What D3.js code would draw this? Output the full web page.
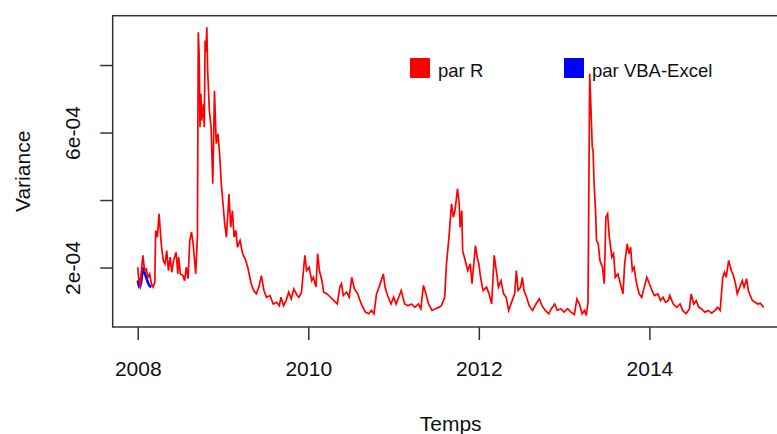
<!DOCTYPE html>
<html>
<head>
<meta charset="utf-8">
<script src="https://cdn.jsdelivr.net/npm/d3@7"></script>
<style>
  body { margin: 0; background: #fff; }
  text { font-family: "Liberation Sans", Arial, sans-serif; fill: #111; }
  .axis path, .axis line { stroke: #333; stroke-width: 1.5; }
  .axis text { font-size: 21px; }
  .labeltext { font-size: 21px; }
  .legendtext { font-size: 18.5px; }
</style>
</head>
<body>
<script>
// time (decimal years) and conditional variance estimated with R, in units of 1e-04
var temps = [
  2008.00, 2008.01, 2008.03, 2008.04, 2008.06, 2008.08, 2008.10, 2008.12, 2008.14, 2008.16,
  2008.18, 2008.20, 2008.21, 2008.23, 2008.25, 2008.27, 2008.28, 2008.30, 2008.32, 2008.34,
  2008.36, 2008.38, 2008.40, 2008.42, 2008.45, 2008.47, 2008.48, 2008.50, 2008.53, 2008.55,
  2008.57, 2008.59, 2008.61, 2008.63, 2008.65, 2008.67, 2008.68, 2008.70, 2008.71, 2008.72,
  2008.73, 2008.74, 2008.75, 2008.77, 2008.78, 2008.79, 2008.80, 2008.81, 2008.82, 2008.84,
  2008.86, 2008.88, 2008.90, 2008.92, 2008.94, 2008.96, 2008.98, 2009.00, 2009.02, 2009.04,
  2009.07, 2009.09, 2009.11, 2009.13, 2009.15, 2009.17, 2009.20, 2009.23, 2009.26, 2009.29,
  2009.33, 2009.36, 2009.39, 2009.42, 2009.45, 2009.48, 2009.51, 2009.55, 2009.59, 2009.63,
  2009.66, 2009.68, 2009.71, 2009.74, 2009.77, 2009.80, 2009.83, 2009.87, 2009.89, 2009.92,
  2009.96, 2009.98, 2010.01, 2010.04, 2010.06, 2010.09, 2010.11, 2010.13, 2010.16, 2010.18,
  2010.22, 2010.26, 2010.30, 2010.34, 2010.37, 2010.39, 2010.41, 2010.45, 2010.48, 2010.51,
  2010.54, 2010.58, 2010.60, 2010.63, 2010.67, 2010.71, 2010.74, 2010.77, 2010.80, 2010.83,
  2010.88, 2010.90, 2010.93, 2010.97, 2011.00, 2011.03, 2011.06, 2011.09, 2011.13, 2011.17,
  2011.21, 2011.25, 2011.29, 2011.32, 2011.35, 2011.38, 2011.41, 2011.45, 2011.49, 2011.53,
  2011.56, 2011.60, 2011.62, 2011.65, 2011.67, 2011.68, 2011.70, 2011.72, 2011.75, 2011.77,
  2011.78, 2011.80, 2011.81, 2011.84, 2011.87, 2011.90, 2011.92, 2011.96, 2011.98, 2012.00,
  2012.02, 2012.05, 2012.09, 2012.12, 2012.15, 2012.18, 2012.21, 2012.23, 2012.26, 2012.29,
  2012.32, 2012.35, 2012.39, 2012.42, 2012.44, 2012.46, 2012.49, 2012.51, 2012.53, 2012.56,
  2012.59, 2012.63, 2012.67, 2012.71, 2012.74, 2012.78, 2012.82, 2012.85, 2012.89, 2012.92,
  2012.96, 2013.00, 2013.04, 2013.08, 2013.12, 2013.15, 2013.18, 2013.21, 2013.24, 2013.26,
  2013.28, 2013.30, 2013.31, 2013.33, 2013.34, 2013.35, 2013.37, 2013.38, 2013.40, 2013.42,
  2013.45, 2013.47, 2013.49, 2013.51, 2013.53, 2013.56, 2013.58, 2013.60, 2013.63, 2013.66,
  2013.69, 2013.71, 2013.74, 2013.76, 2013.78, 2013.80, 2013.82, 2013.85, 2013.88, 2013.91,
  2013.94, 2013.97, 2014.00, 2014.03, 2014.06, 2014.10, 2014.13, 2014.16, 2014.19, 2014.22,
  2014.24, 2014.28, 2014.32, 2014.36, 2014.39, 2014.43, 2014.47, 2014.49, 2014.52, 2014.55,
  2014.58, 2014.61, 2014.65, 2014.69, 2014.73, 2014.77, 2014.80, 2014.83, 2014.86, 2014.88,
  2014.90, 2014.93, 2014.96, 2014.98, 2015.01, 2015.03, 2015.06, 2015.09, 2015.11, 2015.14,
  2015.16, 2015.19, 2015.21, 2015.24, 2015.27, 2015.30, 2015.34
];
var varianceR = [
  2.01, 1.71, 1.42, 1.81, 2.36, 1.91, 1.96, 1.71, 1.81, 1.52,
  1.42, 1.56, 3.10, 2.90, 3.59, 2.90, 2.60, 2.21, 2.11, 2.50,
  1.91, 2.31, 1.86, 2.21, 2.45, 1.81, 2.31, 1.81, 1.76, 1.61,
  2.01, 1.67, 2.80, 3.05, 2.70, 2.11, 1.81, 2.95, 8.97, 8.33,
  6.16, 7.15, 6.36, 6.85, 6.16, 8.73, 8.38, 9.12, 7.84, 6.65,
  6.16, 4.48, 7.24, 5.67, 5.96, 5.37, 4.48, 3.89, 3.29, 2.90,
  4.18, 3.19, 3.69, 2.90, 3.10, 2.60, 2.80, 2.41, 2.26, 2.01,
  1.52, 1.32, 1.22, 1.42, 1.76, 1.32, 1.12, 1.17, 0.92, 0.97,
  0.87, 1.12, 0.87, 1.02, 1.27, 1.07, 1.37, 1.17, 1.12, 1.27,
  2.36, 1.91, 2.01, 1.61, 1.71, 1.42, 2.41, 1.91, 1.61, 1.27,
  1.22, 1.12, 1.02, 0.92, 1.42, 1.52, 1.17, 1.27, 1.12, 1.71,
  1.37, 1.22, 1.07, 0.87, 0.68, 0.63, 0.73, 0.63, 1.22, 1.42,
  1.81, 1.42, 1.17, 0.92, 1.12, 0.92, 1.12, 1.32, 0.92, 0.87,
  0.92, 0.82, 0.92, 0.78, 1.47, 1.22, 0.92, 0.73, 0.78, 0.82,
  0.87, 1.12, 2.11, 2.90, 3.59, 3.89, 3.49, 3.69, 4.33, 3.89,
  3.19, 3.69, 2.50, 2.21, 1.91, 2.11, 1.52, 2.65, 2.31, 2.11,
  1.71, 1.32, 1.42, 1.22, 0.92, 2.36, 1.81, 1.42, 1.61, 1.22,
  1.12, 0.73, 1.02, 1.22, 1.91, 1.32, 1.42, 1.71, 1.32, 1.12,
  0.87, 0.73, 0.92, 1.07, 0.87, 0.73, 0.63, 0.78, 0.92, 0.73,
  0.78, 0.68, 0.78, 0.68, 0.61, 1.07, 0.92, 0.63, 0.73, 0.58,
  0.97, 7.74, 7.05, 5.56, 5.47, 4.58, 3.59, 2.80, 2.70, 2.21,
  2.01, 1.52, 3.49, 3.59, 2.90, 2.31, 2.41, 1.71, 1.81, 1.52,
  1.22, 2.11, 2.70, 2.41, 2.60, 1.91, 2.01, 1.52, 1.22, 1.12,
  1.42, 1.71, 1.52, 1.32, 1.17, 1.22, 1.02, 1.12, 0.97, 1.02,
  1.17, 0.92, 0.82, 0.92, 0.73, 0.63, 0.78, 1.22, 0.92, 1.02,
  0.82, 0.78, 0.68, 0.73, 0.65, 0.73, 0.82, 0.73, 1.71, 1.86,
  1.71, 2.21, 1.91, 1.81, 1.52, 1.22, 1.42, 1.61, 1.42, 1.67,
  1.32, 1.12, 1.02, 0.97, 0.92, 0.94, 0.82
];
// the VBA-Excel estimate, visible only at the start of the sample
var tempsVBA = [2008.00, 2008.01, 2008.02, 2008.03, 2008.04, 2008.06, 2008.08, 2008.12, 2008.14, 2008.16];
var varianceVBA = [1.62, 1.50, 1.58, 1.47, 1.55, 2.00, 1.85, 1.55, 1.45, 1.42];
var unit = 1e-4;

var xTicks = [2008, 2010, 2012, 2014];
var yTicks = [2e-4, 4e-4, 6e-4, 8e-4];
var yTickLabels = ["2e-04", "", "6e-04", ""];
var legendNames = ["par R", "par VBA-Excel"];
var legendColors = ["#ff0000", "#0000ff"];

// set the dimensions and margins of the graph
var margin = {top: 15.7, left: 112.7},
    width = 676,
    height = 311.3;

var svg = d3.select("body").append("svg")
    .attr("width", 777)
    .attr("height", 434);

var g = svg.append("g")
    .attr("transform", "translate(" + margin.left + "," + margin.top + ")");

// R style ranges: data extent padded by 4% on each side
function padded(ext) {
  var r = ext[1] - ext[0];
  return [ext[0] - 0.04 * r, ext[1] + 0.04 * r];
}
var x = d3.scaleLinear().domain(padded(d3.extent(temps))).range([0, width]);
var y = d3.scaleLinear()
    .domain(padded(d3.extent(varianceR)).map(function(v) { return v * unit; }))
    .range([height, 0]);

var line = d3.line()
    .x(function(d) { return x(d[0]); })
    .y(function(d) { return y(d[1] * unit); });

// blue series (mostly hidden under the red one)
g.append("path")
    .datum(d3.zip(tempsVBA, varianceVBA))
    .attr("fill", "none")
    .attr("stroke", "#0000ff")
    .attr("stroke-width", 2.5)
    .attr("d", line);

// red series
g.append("path")
    .datum(d3.zip(temps, varianceR))
    .attr("fill", "none")
    .attr("stroke", "#ff0000")
    .attr("stroke-width", 1.7)
    .attr("d", line);

// box
g.append("rect")
    .attr("x", 0).attr("y", 0)
    .attr("width", width).attr("height", height)
    .attr("fill", "none")
    .attr("stroke", "#333")
    .attr("stroke-width", 1.5);

// x axis
var xAxis = g.append("g")
    .attr("class", "axis")
    .attr("transform", "translate(0," + height + ")")
    .call(d3.axisBottom(x).tickValues(xTicks).tickSize(13).tickFormat(d3.format("d")));
xAxis.select(".domain").remove();
xAxis.selectAll("text").attr("y", 49).attr("dy", null);

// y axis
var yAxis = g.append("g")
    .attr("class", "axis")
    .call(d3.axisLeft(y).tickValues(yTicks).tickSize(12.5)
      .tickFormat(function(d, i) { return yTickLabels[i]; }));
yAxis.select(".domain").remove();
yAxis.selectAll("text")
    .attr("transform", "rotate(-90)")
    .attr("x", 0)
    .attr("y", -32.7)
    .attr("dy", null)
    .style("text-anchor", "middle");

// axis titles
svg.append("text")
    .attr("class", "labeltext")
    .attr("x", margin.left + width / 2)
    .attr("y", 431)
    .style("text-anchor", "middle")
    .text("Temps");
svg.append("text")
    .attr("class", "labeltext")
    .attr("transform", "translate(30," + (margin.top + height / 2) + ") rotate(-90)")
    .style("text-anchor", "middle")
    .text("Variance");

// legend
var legendX = [410, 564];
var legend = svg.selectAll(".legend")
    .data(legendNames)
  .enter().append("g")
    .attr("class", "legend")
    .attr("transform", function(d, i) { return "translate(" + legendX[i] + ",58)"; });
legend.append("rect")
    .attr("width", 20).attr("height", 20)
    .attr("fill", function(d, i) { return legendColors[i]; });
legend.append("text")
    .attr("class", "legendtext")
    .attr("x", 28)
    .attr("y", 19)
    .text(function(d) { return d; });
</script>
</body>
</html>
